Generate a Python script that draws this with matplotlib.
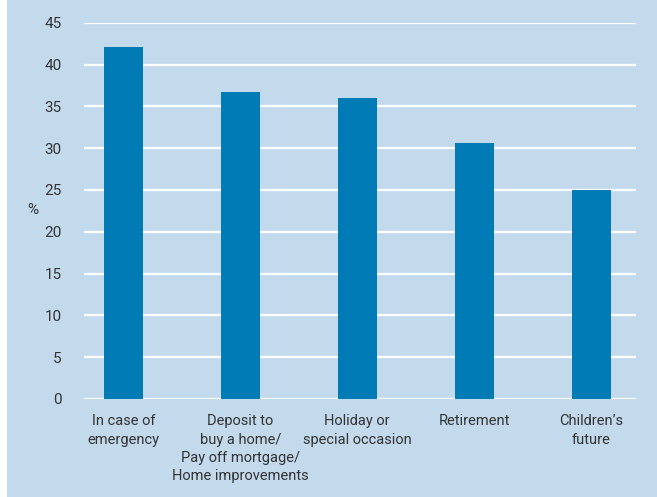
import matplotlib
matplotlib.use("Agg")
import matplotlib.pyplot as plt
from matplotlib.patches import Rectangle

categories = ["In case of\nemergency", "Deposit to\nbuy a home/\nPay off mortgage/\nHome improvements",
              "Holiday or\nspecial occasion", "Retirement", "Children\u2019s\nfuture"]
values = [42.1, 36.7, 36.0, 30.6, 25.0]
yticks = [0, 5, 10, 15, 20, 25, 30, 35, 40, 45]

plt.rcParams['font.family'] = ['Roboto', 'DejaVu Sans']

bg = "#c3daec"
bar_c = "#007bb6"
txt = "#333333"

W, H = 657, 497
fig = plt.figure(figsize=(W/100, H/100), dpi=100, facecolor=bg)
fig.patches.append(Rectangle((0, 0), 7/W, 1, transform=fig.transFigure, facecolor="white", edgecolor="none", zorder=-1))

ax = fig.add_axes([84/W, 1-399/H, (636-84)/W, (399-22.7)/H])
ax.set_facecolor(bg)
x = list(range(len(categories)))
ax.bar(x, values, width=0.333, color=bar_c, zorder=3)
ax.set_xlim(-0.338, 4.384)
ax.set_ylim(0, 45)
ax.set_yticks(yticks)
ax.set_yticklabels([str(v) for v in yticks])
ax.set_xticks(x)
ax.set_xticklabels(categories, linespacing=1.4)
ax.grid(axis='y', color='white', linewidth=1.6, zorder=1)
for s in ax.spines.values():
    s.set_visible(False)
ax.tick_params(axis='y', length=0, colors=txt, labelsize=11, pad=16)
ax.tick_params(axis='x', length=0, colors=txt, labelsize=10.5, pad=11)
fig.text(33/W, 1-210/H, "%", ha='center', va='center', color=txt, fontsize=11)
fig.savefig("out.png", dpi=100, facecolor=bg)
